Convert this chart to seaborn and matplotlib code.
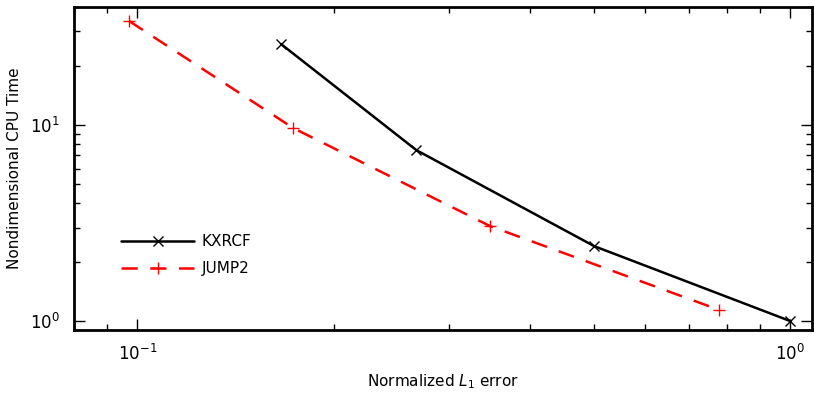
import numpy as np
import pandas as pd
import matplotlib
matplotlib.use("Agg")
import matplotlib.pyplot as plt
import seaborn as sns

kx_err = [0.166, 0.2675, 0.501, 1.0]
kx_time = [25.9, 7.45, 2.41, 1.0]
jp_err = [0.0972, 0.1733, 0.347, 0.778]
jp_time = [33.9, 9.65, 3.05, 1.14]
series_names = ["KXRCF", "JUMP2"]

sns.set_style("ticks")
plt.rcParams['font.family'] = ['DejaVu Sans']
plt.rcParams['mathtext.fontset'] = 'dejavusans'
plt.rcParams['text.color'] = 'black'
plt.rcParams['axes.labelcolor'] = 'black'

fig = plt.figure(figsize=(8.14, 3.95), dpi=100)
ax = fig.add_axes([74/814, 65/395, 738/814, 323/395])

df_kx = pd.DataFrame({"err": kx_err, "time": kx_time})
df_jp = pd.DataFrame({"err": jp_err, "time": jp_time})

sns.lineplot(data=df_kx, x="err", y="time", ax=ax, color="black", lw=1.8,
             marker="x", markersize=7, markeredgewidth=1.0, markeredgecolor="black",
             label=series_names[0], sort=False)
sns.lineplot(data=df_jp, x="err", y="time", ax=ax, color="red", lw=1.8,
             marker="+", markersize=8, markeredgewidth=1.0, markeredgecolor="red",
             label=series_names[1], sort=False, dashes=False)
ax.lines[1].set_dashes([6.5, 5])

ax.set_xscale("log")
ax.set_yscale("log")
ax.set_xlim(0.08, 1.08)
ax.set_ylim(0.9, 40)

ax.set_xlabel("Normalized $L_1$ error", fontsize=11, labelpad=6)
ax.set_ylabel("Nondimensional CPU Time", fontsize=11, labelpad=6)

ax.tick_params(which="both", direction="in", top=True, right=True, labelsize=12, colors="black")
ax.tick_params(which="major", length=8, width=1, pad=10)
ax.tick_params(which="minor", length=4, width=1)
for s in ax.spines.values():
    s.set_linewidth(2)
    s.set_color("black")

leg = ax.legend(loc="lower left", bbox_to_anchor=(0.045, 0.125), frameon=False,
                fontsize=11, handlelength=4.8, labelspacing=0.75, handletextpad=0.5)
leg.legend_handles[1].set_dashes([6.5, 5])

fig.savefig("out.png", dpi=100)
